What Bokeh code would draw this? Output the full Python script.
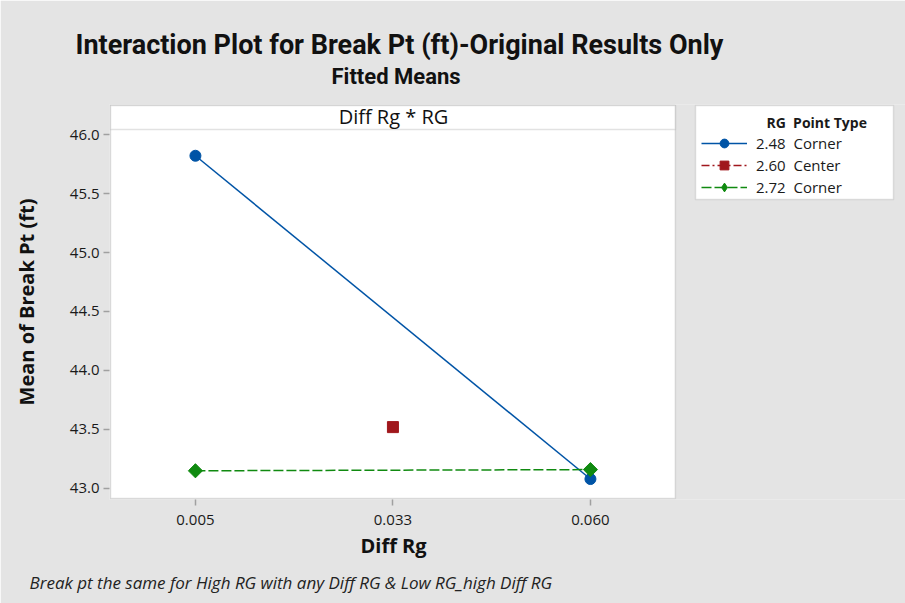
import math
from bokeh.plotting import figure
from bokeh.models import (FixedTicker, Label, BoxAnnotation, Legend, LegendItem,
                          Range1d, PrintfTickFormatter, Title)
from bokeh.embed import file_html
from bokeh.resources import INLINE

# ---------------- data ----------------
diff_rg_levels = ["0.005", "0.033", "0.060"]
y_ticks = [43.0, 43.5, 44.0, 44.5, 45.0, 45.5, 46.0]

rg_248_x = ["0.005", "0.060"]
rg_248_y = [45.82, 43.08]
rg_260_x = ["0.033"]
rg_260_y = [43.52]
rg_272_x = ["0.005", "0.060"]
rg_272_y = [43.15, 43.16]

legend_rg = ["2.48", "2.60", "2.72"]
legend_type = ["Corner", "Center", "Corner"]

title_text = "Interaction Plot for Break Pt (ft)-Original Results Only"
subtitle_text = "Fitted Means"
panel_text = "Diff Rg * RG"
x_title = "Diff Rg"
y_title = "Mean of Break Pt (ft)"
footnote = "Break pt the same for High RG with any Diff RG & Low RG_high Diff RG"

BLUE = "#0054a6"
RED = "#a0171c"
GREEN = "#108a10"
GRAY_BG = "#e4e4e4"
EDGE = "#a0a0a0"
FONT = "Open Sans"
TFONT = "Roboto"
INK = "#111111"

# layout (pixels) - plot box spans x 110..675, y 105..498
PX_X = 197.5          # pixels per category step
PX_Y = 118.0          # pixels per unit of y
FL, FT, FB = 109, 104, 499   # frame edges (1px outside the plot box)
W, H = 905, 603
BOX_L, BOX_R = -0.43, 2.43
BOX_B, BOX_T, HDR_B = 42.915, 46.246, 46.042


def idx(cats):
    return [diff_rg_levels.index(c) for c in cats]


x0 = BOX_L - 1 / PX_X
x1 = x0 + (W - FL) / PX_X
y0 = BOX_B - 1 / PX_Y
y1 = BOX_T + 1 / PX_Y


def px_to_x(px):
    return x0 + (px - FL) / PX_X


def px_to_y(py):
    return y1 - (py - FT) / PX_Y


p = figure(width=W, height=H, output_backend="svg", toolbar_location=None,
           x_range=Range1d(x0, x1), y_range=Range1d(y0, y1),
           min_border_left=FL, min_border_right=0,
           min_border_top=FT, min_border_bottom=H - FB,
           background_fill_color=GRAY_BG, border_fill_color=GRAY_BG,
           outline_line_color=None)
p.grid.visible = False

# axes
p.xaxis.ticker = FixedTicker(ticks=list(range(len(diff_rg_levels))))
p.xaxis.major_label_overrides = {i: s for i, s in enumerate(diff_rg_levels)}
p.yaxis.ticker = FixedTicker(ticks=y_ticks)
p.yaxis.formatter = PrintfTickFormatter(format="%.1f")
for ax in (p.xaxis, p.yaxis):
    ax.axis_line_color = None
    ax.major_tick_line_color = EDGE
    ax.major_tick_line_width = 1.5
    ax.major_tick_out = 6
    ax.major_tick_in = 0
    ax.minor_tick_line_color = None
    ax.major_label_text_font = FONT
    ax.major_label_text_font_size = "15px"
    ax.major_label_text_color = "#1a1a1a"
    ax.axis_label_text_font = FONT
    ax.axis_label_text_font_size = "20px"
    ax.axis_label_text_font_style = "bold"
    ax.axis_label_text_color = INK
p.xaxis.major_label_standoff = 9
p.yaxis.major_label_standoff = 4
p.yaxis.axis_label = y_title
p.yaxis.axis_label_standoff = 27

# plot box and panel header
p.add_layout(BoxAnnotation(left=BOX_L, right=BOX_R, bottom=BOX_B, top=BOX_T,
                           fill_color="white", fill_alpha=1.0,
                           line_color=EDGE, line_width=1.5, level="underlay"))
p.add_layout(BoxAnnotation(left=BOX_L, right=BOX_R, bottom=HDR_B, top=BOX_T,
                           fill_color="white", fill_alpha=1.0,
                           line_color=EDGE, line_width=1.5, level="underlay"))
p.add_layout(Label(x=393 - FL, y=FB - 116, x_units="screen", y_units="screen",
                   text=panel_text, text_font=FONT, text_font_size="20px",
                   text_color=INK, text_align="center", text_baseline="middle"))

# legend frame
p.add_layout(BoxAnnotation(left=px_to_x(695), right=px_to_x(893),
                           top=px_to_y(105), bottom=px_to_y(199),
                           fill_color="white", fill_alpha=1.0,
                           line_color=EDGE, line_width=1.5, level="underlay"))

# series
l1 = p.line(idx(rg_248_x), rg_248_y, line_color=BLUE, line_width=1.5)
s1 = p.scatter(idx(rg_248_x), rg_248_y, marker="circle", size=11,
               fill_color=BLUE, line_color=BLUE)
l2 = p.line(idx(rg_260_x), rg_260_y, line_color=RED, line_width=1.5,
            line_dash="8 3 2 3")
s2 = p.scatter(idx(rg_260_x), rg_260_y, marker="square", size=11,
               fill_color=RED, line_color=RED)
l3 = p.line(idx(rg_272_x), rg_272_y, line_color=GREEN, line_width=1.5,
            line_dash="10 3")
# diamond key for the legend (hidden under the wider diamond drawn next)
s3_key = p.scatter(idx(rg_272_x), rg_272_y, marker="diamond", size=13,
                   fill_color=GREEN, line_color=GREEN)
s3 = p.scatter(idx(rg_272_x), rg_272_y, marker="square", size=10, angle=math.pi / 4,
               fill_color=GREEN, line_color=GREEN)

# legend
nb = "\u00a0"
items = []
for rg, pt, rends in zip(legend_rg, legend_type, [[l1, s1], [l2, s2], [l3, s3_key]]):
    items.append(LegendItem(label=rg + nb * 2 + pt, renderers=rends))
PAD = 15
legend = Legend(items=items, location=(592, 301),
                title=nb * 18 + "RG" + nb * 2 + "Point Type",
                title_text_font=FONT, title_text_font_style="bold",
                title_text_font_size="14px", title_text_color="#1a1a1a",
                title_standoff=-1,
                label_text_font=FONT, label_text_font_size="15px",
                label_text_color="#1a1a1a",
                glyph_width=46, glyph_height=22, spacing=0, padding=PAD,
                label_standoff=9, label_width=110, label_height=21,
                border_line_color=None, background_fill_alpha=0.0,
                margin=0)
p.add_layout(legend)

# titles above (first added sits closest to the plot)
p.add_layout(Title(text=subtitle_text, align="left", offset=331 - FL,
                   text_font=TFONT, text_font_size="22px", text_font_style="bold",
                   text_color=INK, standoff=31), "above")
p.add_layout(Title(text=title_text, align="left", offset=75 - FL,
                   text_font=TFONT, text_font_size="27px", text_font_style="bold",
                   text_color=INK, standoff=-28), "above")

# x-axis title and footnote below
p.add_layout(Title(text=x_title, align="left", offset=360 - FL,
                   text_font=FONT, text_font_size="20px", text_font_style="bold",
                   text_color=INK, standoff=4), "below")
p.add_layout(Title(text=footnote, align="left", offset=29 - FL, text_font=FONT,
                   text_font_size="17px", text_font_style="italic",
                   text_color="#222222", standoff=16), "below")

open("out.html", "w").write(file_html(p, INLINE))
